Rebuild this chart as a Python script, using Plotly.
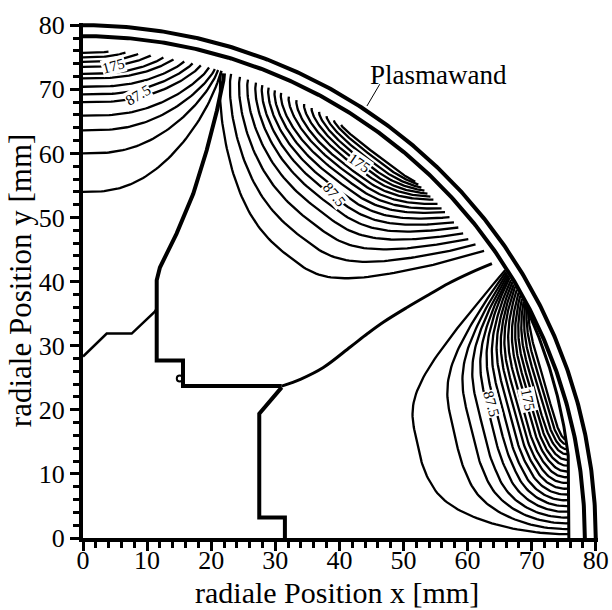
import numpy as np
import plotly.graph_objects as go

# ---------------- values ----------------
X_TICKS = [0, 10, 20, 30, 40, 50, 60, 70, 80]
Y_TICKS = [0, 10, 20, 30, 40, 50, 60, 70, 80]
X_TITLE = "radiale Position x [mm]"
Y_TITLE = "radiale Position y [mm]"

WALL_RADII = [80.0, 78.3]            # the two drawn wall arcs (mm)
INNER_EDGE_X = 75.8                  # straight inner edge near the x axis (mm)
EDGE_ANG = [9, 28, 33, 38, 90]       # inner edge of the contour field, angle (deg)
EDGE_R = [76.75, 78.0, 78.0, 76.0, 76.0]  # ... and its radius (mm)

# group 1 (at the y axis): depth below wall at x=0, angle where the line meets the wall
G1_DEPTH = [0.3, 1.0, 1.7, 2.5, 3.6, 4.3, 5.6, 6.8, 8.0, 10.1, 12.4, 16.0, 22.0]
G1_END_ANGLE = [87, 85, 83.5, 82, 80.5, 79.3, 78, 77, 76, 75, 74.3, 73.9, 73.5]

# group 2 (middle of the wall)
G2_DEPTH = [0.7, 1.3, 2.0, 2.7, 3.4, 4.1, 4.9, 5.7, 6.6, 7.6, 8.7, 9.9, 11.3, 13.0, 15.2, 18.0, 21.6]
G2_CONV_ANGLE = [58, 59, 60, 61, 62, 63, 64, 65, 66, 66.8, 67.6, 68.4, 69.2, 70.2, 71.2, 72.3, 73.5]
G2_SPREAD_ANGLE = [47, 46.5, 46, 45.5, 45, 44.5, 44, 43.3, 42.6, 42, 41.2, 40.4, 39.6, 38.7, 37.8, 36.8, 35.6]

# group 3 (near the x axis)
G3_DEPTH = [1.4, 2.0, 2.6, 3.2, 3.8, 4.4, 5.0, 5.7, 6.4, 7.1, 7.9, 8.8, 9.8, 11.0, 12.5, 14.3, 17.0, 23.0]
G3_CONV_ANGLE = [27.0, 27.4, 27.8, 28.2, 28.6, 29.0, 29.4, 29.8, 30.2, 30.5, 30.8, 31.1, 31.4, 31.6, 31.8, 32.0, 32.2, 32.4]
G3_END_Y = [15.5, 14.7, 13.9, 13.1, 12.2, 11.3, 10.4, 9.5, 8.6, 7.7, 6.8, 5.9, 5.0, 4.1, 3.2, 2.3, 1.4, 0.6]

# heavy boundary lines
LINE_A_X = [22.0, 21.9, 20.9, 19.3, 17.2, 14.6, 12.0, 11.5, 11.5, 15.6, 15.6, 31.0]
LINE_A_Y = [72.5, 71.4, 66.7, 60.5, 53.7, 47.5, 42.2, 40.2, 27.7, 27.7, 23.7, 23.7]
LINE_B_X = [31.0, 34.0, 37.5, 41.7, 44.4, 46.9, 50.6, 54.2, 57.0, 60.5, 63.8]
LINE_B_Y = [23.7, 24.8, 26.6, 29.8, 31.9, 33.7, 36.0, 38.1, 39.7, 41.4, 42.8]
LINE_C_X = [31.5, 31.5, 27.5, 27.5, 31.0]
LINE_C_Y = [0.0, 3.2, 3.2, 19.4, 23.5]
LINE_D_X = [0.0, 3.7, 7.6, 11.2, 11.5]
LINE_D_Y = [28.3, 31.9, 31.9, 35.3, 35.8]
LOOP_X = [15.1]
LOOP_Y = [24.9]

LABEL_TEXT = ["175", "87.5", "175", "87.5", "175", "87.5"]
LABEL_X = [4.7, 8.6, 43.1, 39.1, 69.4, 63.7]
LABEL_Y = [73.7, 69.1, 58.5, 53.6, 21.5, 20.9]
LABEL_ANGLE = [-15, -30, 35, 50, 78, 75]

WALL_NOTE = "Plasmawand"
WALL_NOTE_X, WALL_NOTE_Y = 55.4, 72.3
WALL_LEADER_X = [46.3, 44.3]
WALL_LEADER_Y = [70.8, 67.4]

# ---------------- geometry helpers ----------------
DEG = np.pi / 180.0
SERIF = "Liberation Serif"


def r_in(th):
    th = np.asarray(th, float)
    r = np.interp(th, EDGE_ANG, EDGE_R)
    vert = INNER_EDGE_X / np.cos(th * DEG)
    return np.where(th <= EDGE_ANG[0], vert, r)


def curve(th_pk, D, th_a=None, pa=2.5, qa=1.0, th_b=None, pb=2.5, qb=1.0, n=60):
    s = np.linspace(0, 1, n)
    u = np.sin(np.pi / 2 * s)
    ths, ds = [], []
    if th_a is not None:
        ua = u[::-1]
        ths.append(th_pk + ua * (th_a - th_pk))
        ds.append(D * np.clip(1 - ua ** pa, 0, None) ** qa)
    if th_b is not None:
        ub = u[1:] if th_a is not None else u
        ths.append(th_pk + ub * (th_b - th_pk))
        ds.append(D * np.clip(1 - ub ** pb, 0, None) ** qb)
    th = np.concatenate(ths)
    d = np.concatenate(ds)
    r = r_in(th) - d
    return r * np.cos(th * DEG), r * np.sin(th * DEG)


def join(curves):
    xs, ys = [], []
    for cx, cy in curves:
        xs += list(cx) + [None]
        ys += list(cy) + [None]
    return xs, ys


g1 = [curve(90.0, D, th_b=e, pb=2.5, qb=1 - 0.5 * D / 22.0)
      for D, e in zip(G1_DEPTH, G1_END_ANGLE)]
g2 = []
for D, c, s in zip(G2_DEPTH, G2_CONV_ANGLE, G2_SPREAD_ANGLE):
    pk = s + 0.45 * (c - s)
    g2.append(curve(pk, D, th_a=c, pa=2.5, qa=0.7, th_b=s, pb=2.5, qb=1.0))
g3 = []
for D, c, ye in zip(G3_DEPTH, G3_CONV_ANGLE, G3_END_Y):
    tb = np.degrees(np.arctan2(ye, INNER_EDGE_X))
    pk = tb + 0.5 * (c - tb)
    g3.append(curve(pk, D, th_a=c, pa=3.0, qa=1.0, th_b=tb, pb=3.0, qb=0.5))

fig = go.Figure()
for grp in (g1, g2, g3):
    gx, gy = join(grp)
    fig.add_trace(go.Scatter(x=gx, y=gy, mode="lines",
                             line=dict(color="black", width=2.3), hoverinfo="skip"))

# walls
tw = np.linspace(0, 90, 300)
for R in WALL_RADII:
    fig.add_trace(go.Scatter(x=R * np.cos(tw * DEG), y=R * np.sin(tw * DEG), mode="lines",
                             line=dict(color="black", width=4), hoverinfo="skip"))
te = np.linspace(0, 28, 120)
re = r_in(te)
fig.add_trace(go.Scatter(x=re * np.cos(te * DEG), y=re * np.sin(te * DEG), mode="lines",
                         line=dict(color="black", width=3), hoverinfo="skip"))

# boundary lines
fig.add_trace(go.Scatter(x=LINE_A_X, y=LINE_A_Y, mode="lines",
                         line=dict(color="black", width=4), hoverinfo="skip"))
fig.add_trace(go.Scatter(x=LINE_B_X, y=LINE_B_Y, mode="lines", line_shape="spline",
                         line=dict(color="black", width=3), hoverinfo="skip"))
fig.add_trace(go.Scatter(x=LINE_C_X, y=LINE_C_Y, mode="lines",
                         line=dict(color="black", width=4), hoverinfo="skip"))
fig.add_trace(go.Scatter(x=LINE_D_X, y=LINE_D_Y, mode="lines",
                         line=dict(color="black", width=2.5), hoverinfo="skip"))
fig.add_trace(go.Scatter(x=LOOP_X, y=LOOP_Y, mode="markers",
                         marker=dict(symbol="circle-open", size=6, color="black",
                                     line=dict(width=2)), hoverinfo="skip"))
fig.add_trace(go.Scatter(x=WALL_LEADER_X, y=WALL_LEADER_Y, mode="lines",
                         line=dict(color="black", width=1), hoverinfo="skip"))

for t, x, y, a in zip(LABEL_TEXT, LABEL_X, LABEL_Y, LABEL_ANGLE):
    fig.add_annotation(x=x, y=y, text=t, textangle=a, showarrow=False,
                       bgcolor="white", borderpad=0,
                       font=dict(family=SERIF, size=15, color="black"))
fig.add_annotation(x=WALL_NOTE_X, y=WALL_NOTE_Y, text=WALL_NOTE, showarrow=False,
                   font=dict(family=SERIF, size=27, color="black"))

# axis titles
fig.add_annotation(xref="paper", yref="paper", x=0.493, y=-0.106, text=X_TITLE,
                   showarrow=False, xanchor="center", yanchor="middle",
                   font=dict(family=SERIF, size=30, color="black"))
fig.add_annotation(xref="paper", yref="paper", x=-0.121, y=0.50, text=Y_TITLE,
                   showarrow=False, xanchor="center", yanchor="middle", textangle=-90,
                   font=dict(family=SERIF, size=31, color="black"))

axis_common = dict(
    automargin=False,
    showgrid=False, zeroline=False, showline=True, linewidth=4, linecolor="black",
    ticks="outside", ticklen=9, tickwidth=3, tickcolor="black",
    tickfont=dict(family=SERIF, size=26, color="black"),
    minor=dict(dtick=2, tick0=0, ticks="outside", ticklen=6, tickwidth=3, tickcolor="black"),
)
fig.update_layout(
    width=612, height=610,
    margin=dict(l=83, r=14, t=23, b=72, autoexpand=False),
    plot_bgcolor="white", paper_bgcolor="white", showlegend=False,
    xaxis=dict(range=[0, 80.35], tickvals=X_TICKS, ticklabelstandoff=-13, **axis_common),
    yaxis=dict(range=[0, 80.35], tickvals=Y_TICKS, **axis_common),
)
fig.write_html("out.html", config={"displayModeBar": False},
               post_script="document.body.style.margin='0';")
